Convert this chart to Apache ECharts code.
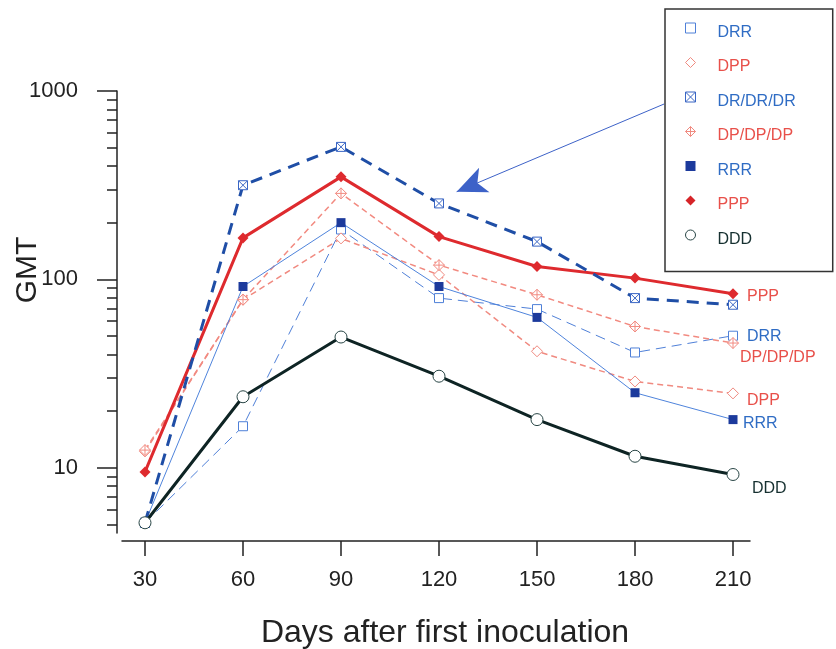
<!DOCTYPE html>
<html>
<head>
<meta charset="utf-8">
<script src="https://cdn.jsdelivr.net/npm/echarts@6/dist/echarts.min.js"></script>
<style>
  html, body { margin: 0; padding: 0; background: #fff; }
  #chart { width: 836px; height: 649px; }
</style>
</head>
<body>
<div id="chart"></div>
<script>
// days after first inoculation
const days = [30, 60, 90, 120, 150, 180, 210];
const yMajor = [10, 100, 1000];
const yMinor = [5, 6, 7, 8, 9, 20, 30, 40, 50, 60, 70, 80, 90, 200, 300, 400, 500, 600, 700, 800, 900];

// GMT per group
const drr = [5.1, 16.6, 184, 79.5, 69.5, 40.9, 50.2];
const dpp = [12.2, 78, 165, 105.6, 41.5, 28.7, 24.8];
const drdrdr = [5.1, 316, 505, 253, 158.6, 79.5, 73.3];
const dpdpdp = [12.4, 78, 286, 119, 82.8, 56.2, 45.9];
const rrr = [5.1, 91.6, 200, 91.6, 62.8, 25.0, 18.0];
const ppp = [9.5, 166, 350, 168.6, 117, 101.5, 83.8];
const ddd = [5.1, 23.8, 49.4, 30.6, 18.0, 11.5, 9.2];

// arrow pointing at the DR/DR/DR line (data coords)
const arrowFrom = [188.9, 853];
const arrowTo = [125.4, 292];

const FONT = '"Liberation Sans", Arial, sans-serif';
const AXIS = '#222';

const SQ = 'path://M0,0L10,0L10,10L0,10Z';
const DIA = 'path://M5,0L10,5L5,10L0,5Z';
const SQX = 'path://M0,0L10,0L10,10L0,10Z M0,0L10,10 M10,0L0,10';
const DIAP = 'path://M5,0L10,5L5,10L0,5Z M5,0L5,10 M0,5L10,5';

const pairs = (vals) => vals.map((v, i) => [days[i], v]);

function line(name, vals, o) {
  const s = {
    name,
    type: 'line',
    data: pairs(vals),
    symbol: o.symbol,
    symbolSize: o.size,
    lineStyle: { color: o.color, width: o.width, type: o.dash || 'solid' },
    itemStyle: o.open
      ? { color: '#fff', borderColor: o.mark || o.color, borderWidth: 1 }
      : { color: o.mark || o.color },
    z: o.z || 2,
  };
  if (o.endOffset) {
    s.endLabel = {
      show: true,
      formatter: name,
      distance: 0,
      offset: o.endOffset,
      color: o.text,
      fontSize: 16,
      fontFamily: FONT,
    };
  }
  return s;
}

const series = [
  line('DRR', drr, { symbol: SQ, size: 9, open: true, color: '#4f80d8', width: 1, dash: [10, 6], text: '#2f6cc4', endOffset: [14, 1] }),
  line('DPP', dpp, { symbol: DIA, size: 11, open: true, color: '#f08a80', width: 1.5, dash: [6, 4], text: '#e8504a', endOffset: [14, 7] }),
  line('DP/DP/DP', dpdpdp, { symbol: DIAP, size: 11, open: true, color: '#f28a80', width: 1.5, dash: [6, 4], text: '#e8504a', endOffset: [7, 15] }),
  line('RRR', rrr, { symbol: SQ, size: 9, color: '#4f84dc', mark: '#1c3a9c', width: 1, text: '#2f6cc4', endOffset: [10, 4] }),
  line('PPP', ppp, { symbol: DIA, size: 11, color: '#de2a2e', width: 3, text: '#e8504a', endOffset: [14, 3], z: 3 }),
  line('DR/DR/DR', drdrdr, { symbol: SQX, size: 9, open: true, color: '#1f4ea6', mark: '#3a66c4', width: 3, dash: [12, 8], z: 3 }),
  line('DDD', ddd, { symbol: 'circle', size: 12, open: true, color: '#0e2424', mark: '#294646', width: 3, text: '#163030', endOffset: [19, 14], z: 4 }),
];

series[5].markLine = {
  silent: true,
  symbol: ['none', 'arrow'],
  symbolSize: [20, 30],
  label: { show: false },
  lineStyle: { color: '#3d62c8', width: 1, type: 'solid' },
  itemStyle: { color: '#2444b0' },
  data: [[{ coord: arrowFrom }, { coord: arrowTo }]],
};

function legendItem(name, icon, color, text, open) {
  return {
    name,
    icon,
    itemStyle: open
      ? { color: '#fff', borderColor: color, borderWidth: 1 }
      : { color, borderWidth: 0 },
    textStyle: { color: text },
  };
}

const legendData = [
  legendItem('DRR', SQ, '#4f80d8', '#2f6cc4', true),
  legendItem('DPP', DIA, '#f08a80', '#e8504a', true),
  legendItem('DR/DR/DR', SQX, '#3a66c4', '#2f6cc4', true),
  legendItem('DP/DP/DP', DIAP, '#f08a80', '#e8504a', true),
  legendItem('RRR', SQ, '#1c3a9c', '#2f6cc4', false),
  legendItem('PPP', DIA, '#d62428', '#e8504a', false),
  legendItem('DDD', 'circle', '#294646', '#163030', true),
];

const chart = echarts.init(document.getElementById('chart'));

chart.setOption({
  animation: false,
  backgroundColor: '#fff',
  textStyle: { fontFamily: FONT },
  grid: { left: 122, right: 86, top: 91, bottom: 116, outerBoundsMode: 'none', containLabel: false },
  legend: {
    orient: 'vertical',
    left: 665,
    top: 9,
    data: legendData,
    itemWidth: 44,
    itemHeight: 10,
    itemGap: 10,
    padding: [7, 37, 24, 20],
    borderColor: '#333',
    borderWidth: 1.5,
    selectedMode: false,
    formatter: (name) => '{t|' + name + '}',
    textStyle: {
      fontSize: 16,
      fontFamily: FONT,
      lineHeight: 24,
      rich: { t: { fontSize: 16, fontFamily: FONT, padding: [9, 0, 0, 0] } },
    },
  },
  xAxis: {
    type: 'value',
    min: 22.96,
    max: 215.2,
    offset: 8,
    splitLine: { show: false },
    axisLine: { onZero: false, lineStyle: { color: AXIS, width: 1.5 } },
    axisTick: { customValues: days, length: 15, lineStyle: { color: AXIS, width: 1.5 } },
    axisLabel: { customValues: days, margin: 28, fontSize: 22, color: AXIS, fontFamily: FONT },
    name: 'Days after first inoculation',
    nameLocation: 'middle',
    nameGap: 76,
    nameMoveOverlap: false,
    nameTextStyle: { fontSize: 32, color: AXIS, fontFamily: FONT, padding: [0, 0, 0, 18] },
  },
  yAxis: [
    {
      type: 'log',
      position: 'left',
      min: 4.5,
      max: 1000,
      offset: 5,
      splitLine: { show: false },
      axisLine: { lineStyle: { color: AXIS, width: 1.5 } },
      axisTick: { customValues: yMajor, length: 20, lineStyle: { color: AXIS, width: 1.5 } },
      axisLabel: { customValues: yMajor, margin: 39, fontSize: 22, color: AXIS, fontFamily: FONT, formatter: (v) => String(v) },
      name: 'GMT',
      nameLocation: 'middle',
      nameGap: 74,
      nameMoveOverlap: false,
      nameTextStyle: { fontSize: 30, color: AXIS, fontFamily: FONT, padding: [0, 0, 0, 84] },
    },
    {
      type: 'log',
      position: 'left',
      min: 4.5,
      max: 1000,
      offset: 5,
      splitLine: { show: false },
      axisLine: { show: false },
      axisTick: { customValues: yMinor, length: 10, lineStyle: { color: AXIS, width: 1.5 } },
      axisLabel: { show: false },
    },
  ],
  series,
});
</script>
</body>
</html>
